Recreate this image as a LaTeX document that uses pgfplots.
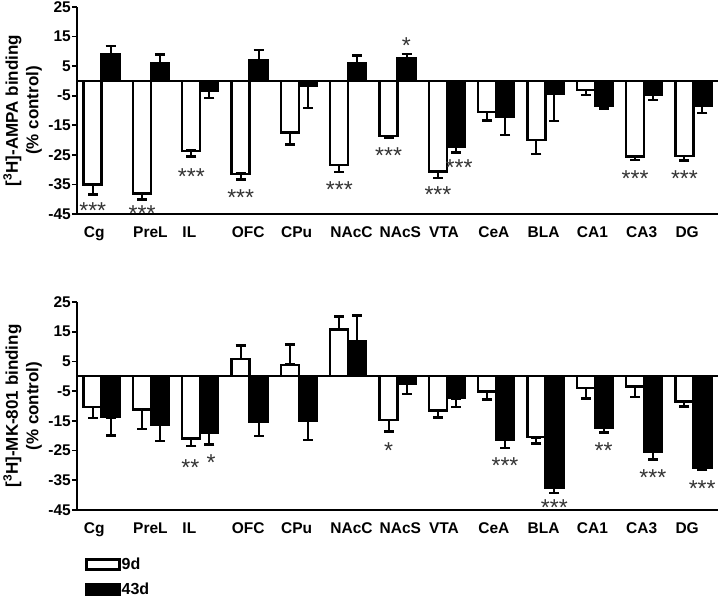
\documentclass[border=0pt]{standalone}
\usepackage{fontspec}
\setmainfont{Liberation Sans}
\usepackage{pgfplots}
\pgfplotsset{compat=1.18}

\tikzset{ylab/.style={rotate=90, anchor=center, inner sep=0pt, font=\fontsize{17}{20}\selectfont\bfseries}}
\pgfplotsset{
  panel/.style={
    scale only axis, width=641pt, height=207pt,
    xmin=-0.5, xmax=12.5, ymin=-45, ymax=25,
    axis x line=bottom, axis y line=left,
    axis line style={line width=2.2pt, -},
    ytick={-45,-35,-25,-15,-5,5,15,25},
    yticklabels={-45,-35,-25,-15,-5,5,15,25},
    ytick align=outside, major tick length=5pt,
    ytick style={line width=1.6pt, black},
    xtick={0,1,2,3,4,5,6,7,8,9,10,11,12},
    xticklabels={Cg,PreL,IL,OFC,CPu,NAcC,NAcS,VTA,CeA,BLA,CA1,CA3,DG},
    xtick style={draw=none},
    xticklabel style={font=\fontsize{15.5}{18}\selectfont\bfseries, anchor=north west, inner sep=0pt, xshift=-18pt, yshift=-10pt},
    yticklabel style={font=\fontsize{15.5}{18}\selectfont\bfseries, inner sep=0pt, xshift=-1pt},
    clip=false,
  },
  wbar/.style={ybar, bar width=18pt, bar shift=0pt, x filter/.expression={x-0.1826},
    fill=white, draw=black, line width=2.4pt,
    error bars/.cd, y dir=both, y explicit, error bar style={line width=2pt},
    error mark options={rotate=90, line width=2.6pt, mark size=5pt, black}},
  bbar/.style={ybar, bar width=18pt, bar shift=0pt, x filter/.expression={x+0.1826},
    fill=black, draw=black, line width=2.4pt,
    error bars/.cd, y dir=both, y explicit, error bar style={line width=2pt},
    error mark options={rotate=90, line width=2.6pt, mark size=5pt, black}},
  stars/.style={draw=none, nodes near coords, point meta=explicit symbolic,
    every node near coord/.style={anchor=center, inner sep=0pt, yshift=-5pt, text=black!80, font=\fontsize{23}{24}\selectfont}},
}

\begin{document}
\begin{tikzpicture}[x=1pt,y=1pt]
\path[use as bounding box] (0,0) rectangle (720,-598);

% ---------- Panel 1: AMPA ----------
\begin{axis}[panel, at={(77pt,-7pt)}, anchor=north west]
\addplot[wbar] coordinates {
 (0,-35.0) += (0,0) -= (0,3.4)
 (1,-38.1) += (0,0) -= (0,2.0)
 (2,-23.6) += (0,0) -= (0,2.0)
 (3,-31.4) += (0,0) -= (0,2.0)
 (4,-17.5) += (0,0) -= (0,4.0)
 (5,-28.4) += (0,0) -= (0,2.4)
 (6,-18.7) += (0,0) -= (0,0.5)
 (7,-30.6) += (0,0) -= (0,2.2)
 (8,-10.5) += (0,0) -= (0,2.8)
 (9,-20.0) += (0,0) -= (0,4.7)
 (10,-3.0) += (0,0) -= (0,1.7)
 (11,-25.6) += (0,0) -= (0,1.1)
 (12,-25.4) += (0,0) -= (0,1.5)
};
\addplot[bbar] coordinates {
 (0,9.0) += (0,2.8) -= (0,0)
 (1,5.9) += (0,3.1) -= (0,0)
 (2,-3.2) += (0,0) -= (0,2.6)
 (3,7.0) += (0,3.4) -= (0,0)
 (4,-1.6) += (0,0) -= (0,7.6)
 (5,5.9) += (0,2.6) -= (0,0)
 (6,7.6) += (0,1.5) -= (0,0)
 (7,-22.2) += (0,0) -= (0,2.0)
 (8,-12.0) += (0,0) -= (0,6.3)
 (9,-4.4) += (0,0) -= (0,9.1)
 (10,-8.3) += (0,0) -= (0,1.1)
 (11,-4.7) += (0,0) -= (0,1.7)
 (12,-8.3) += (0,0) -= (0,2.5)
};
\addplot[black, line width=2.2pt] coordinates {(-0.5,0) (12.5,0)};
\addplot[stars] coordinates {
 (-0.18,-42.3) [***]
 (0.82,-43.2) [***]
 (1.82,-30.6) [***]
 (2.82,-37.7) [***]
 (4.82,-35.1) [***]
 (5.82,-23.4) [***]
 (6.18,13.5) [*]
 (6.82,-36.8) [***]
 (7.25,-27.5) [***]
 (10.82,-31.5) [***]
 (11.82,-31.2) [***]
};
\end{axis}

% ---------- Panel 2: MK-801 ----------
\begin{axis}[panel, height=208pt, at={(77pt,-302pt)}, anchor=north west,
  legend style={at={(axis description cs:0.0125,-0.225)}, anchor=north west, draw=none, fill=none,
    inner sep=0pt, row sep=10pt, font=\fontsize{16}{18}\selectfont\bfseries,
    nodes={inner sep=1pt}},
  legend cell align=left]
\addlegendimage{legend image code/.code={\draw[fill=white,draw=black,line width=2.4pt] (0pt,-5pt) rectangle (33pt,5pt);}}
\addlegendentry{9d}
\addlegendimage{legend image code/.code={\draw[fill=black,draw=black,line width=2.4pt] (0pt,-5pt) rectangle (33pt,5pt);}}
\addlegendentry{43d}
\addplot[wbar] coordinates {
 (0,-10.3) += (0,0) -= (0,3.7)
 (1,-11.2) += (0,0) -= (0,6.5)
 (2,-20.9) += (0,0) -= (0,2.6)
 (3,5.8) += (0,4.5) -= (0,0)
 (4,3.9) += (0,6.7) -= (0,0)
 (5,15.7) += (0,4.4) -= (0,0)
 (6,-14.7) += (0,0) -= (0,3.8)
 (7,-11.5) += (0,0) -= (0,2.3)
 (8,-5.1) += (0,0) -= (0,2.7)
 (9,-20.5) += (0,0) -= (0,2.2)
 (10,-4.0) += (0,0) -= (0,3.4)
 (11,-3.4) += (0,0) -= (0,3.6)
 (12,-8.5) += (0,0) -= (0,1.6)
};
\addplot[bbar] coordinates {
 (0,-13.8) += (0,0) -= (0,6.1)
 (1,-16.2) += (0,0) -= (0,5.6)
 (2,-19.0) += (0,0) -= (0,3.9)
 (3,-15.4) += (0,0) -= (0,4.7)
 (4,-15.1) += (0,0) -= (0,6.4)
 (5,11.7) += (0,8.8) -= (0,0)
 (6,-2.6) += (0,0) -= (0,3.3)
 (7,-7.4) += (0,0) -= (0,3.0)
 (8,-21.3) += (0,0) -= (0,2.8)
 (9,-37.6) += (0,0) -= (0,1.7)
 (10,-17.4) += (0,0) -= (0,1.6)
 (11,-25.5) += (0,0) -= (0,2.5)
 (12,-30.9) += (0,0) -= (0,0.5)
};
\addplot[black, line width=2.2pt] coordinates {(-0.5,0) (12.5,0)};
\addplot[stars] coordinates {
 (1.80,-29.0) [**]
 (2.22,-27.3) [*]
 (5.82,-23.4) [*]
 (8.18,-28.4) [***]
 (9.18,-42.6) [***]
 (10.18,-23.2) [**]
 (11.18,-32.3) [***]
 (12.18,-36.2) [***]
};
\end{axis}

\node[ylab] at (12.5pt,-110.5pt) {[\textsuperscript{3}H]-AMPA binding};
\node[ylab] at (34pt,-110.5pt) {(\% control)};
\node[ylab] at (12.5pt,-406pt) {[\textsuperscript{3}H]-MK-801 binding};
\node[ylab] at (34pt,-406pt) {(\% control)};
\end{tikzpicture}
\end{document}
